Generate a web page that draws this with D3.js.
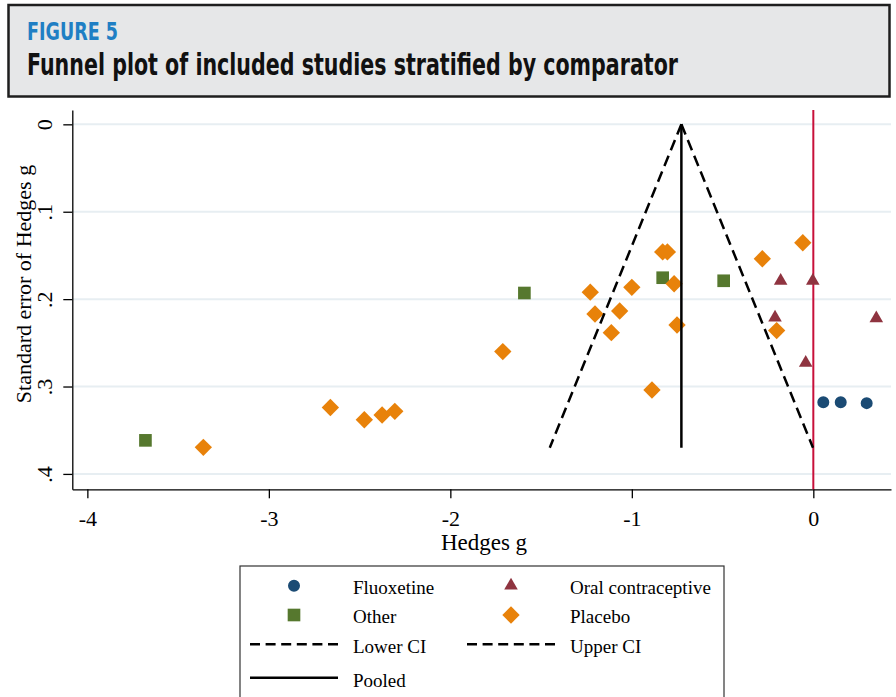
<!DOCTYPE html>
<html>
<head>
<meta charset="utf-8">
<script src="https://cdn.jsdelivr.net/npm/d3@7"></script>
<style>
  html, body { margin: 0; padding: 0; background: #ffffff; }
  svg { display: block; }
</style>
</head>
<body>
<svg id="chart" width="896" height="697"></svg>
<script>
// ---------------- DATA ----------------
const figureLabel = "FIGURE 5";
const figureTitle = "Funnel plot of included studies stratified by comparator";
const xTitle = "Hedges g";
const yTitle = "Standard error of Hedges g";

const xTickValues = [-4, -3, -2, -1, 0];
const xTickLabels = ["-4", "-3", "-2", "-1", "0"];
const yTickValues = [0, 0.1, 0.2, 0.3, 0.4];
const yTickLabels = ["0", ".1", ".2", ".3", ".4"];

// Each study: [Hedges g, standard error]
const fluoxetine = [[0.055, 0.318], [0.151, 0.318], [0.294, 0.319]];
const oralContraceptive = [[-0.180, 0.179], [-0.003, 0.179], [-0.211, 0.221], [0.347, 0.222], [-0.042, 0.273]];
const other = [[-1.592, 0.193], [-0.830, 0.1755], [-0.494, 0.179], [-3.680, 0.3616]];
const placebo = [
  [-0.058, 0.1355], [-0.281, 0.1538], [-0.830, 0.146], [-0.804, 0.146],
  [-0.767, 0.1824], [-1.229, 0.192], [-1.000, 0.1865], [-1.203, 0.217],
  [-1.067, 0.2136], [-1.113, 0.2384], [-0.751, 0.2296], [-0.202, 0.236],
  [-1.711, 0.260], [-0.889, 0.304], [-2.661, 0.324], [-2.474, 0.338],
  [-2.376, 0.3326], [-2.306, 0.3284], [-3.361, 0.3696]
];

const pooledEffect = -0.727;   // pooled Hedges g
const funnelSeMax = 0.37;      // SE at bottom of funnel
const zCrit = 1.96;
const nullEffect = 0;

const legendLabels = ["Fluoxetine", "Oral contraceptive", "Other", "Placebo", "Lower CI", "Upper CI", "Pooled"];

// ---------------- STYLE ----------------
const col = {
  fluoxetine: "#1b4b74",
  oral: "#8f3440",
  other: "#56782e",
  placebo: "#e8820a",
  red: "#c8103a",
  grid: "#e7eef2"
};
const serif = "'Liberation Serif', 'DejaVu Serif', 'Times New Roman', serif";
const narrow = "'Liberation Sans Narrow', 'DejaVu Sans Condensed', 'Liberation Sans', sans-serif";

const svg = d3.select("#chart");

// ---------------- HEADER ----------------
svg.append("rect")
  .attr("x", 8.5).attr("y", 5).attr("width", 881).attr("height", 91.5)
  .attr("fill", "#e6e7e8").attr("stroke", "#1e1e1e").attr("stroke-width", 2.5);

function condensedText(str, xPos, yPos, size, color, targetWidth) {
  const g = svg.append("g");
  const t = g.append("text")
    .attr("x", 0).attr("y", 0)
    .attr("font-family", narrow).attr("font-weight", "bold").attr("font-size", size)
    .attr("fill", color)
    .text(str);
  const w = t.node().getComputedTextLength() || targetWidth;
  g.attr("transform", `translate(${xPos},${yPos}) scale(${targetWidth / w},1)`);
}
condensedText(figureLabel, 27, 40, 24, "#1f7fc4", 91);
condensedText(figureTitle, 27, 74.5, 31, "#111111", 651);

// ---------------- SCALES ----------------
const plotLeft = 72.3, plotRight = 891, plotTop = 110, plotBottom = 489.3;
const x = d3.scaleLinear().domain([-4.083, 0.428]).range([plotLeft, plotRight]);
const y = d3.scaleLinear().domain([-0.0164, 0.4176]).range([plotTop, plotBottom]);

// gridlines
svg.append("g").selectAll("line").data(yTickValues).join("line")
  .attr("x1", plotLeft).attr("x2", plotRight)
  .attr("y1", d => y(d)).attr("y2", d => y(d))
  .attr("stroke", col.grid).attr("stroke-width", 2);

// axes
const xAxis = d3.axisBottom(x).tickValues(xTickValues)
  .tickFormat((d, i) => xTickLabels[i]).tickSize(9).tickPadding(12).tickSizeOuter(0);
const gx = svg.append("g").attr("transform", `translate(0,${plotBottom})`).call(xAxis);
gx.select(".domain").attr("stroke", "#000").attr("stroke-width", 1.3);
gx.selectAll(".tick line").attr("stroke", "#000").attr("stroke-width", 1.3);
gx.selectAll(".tick text").attr("font-family", serif).attr("font-size", 22).attr("fill", "#000");

const yAxis = d3.axisLeft(y).tickValues(yTickValues)
  .tickFormat((d, i) => yTickLabels[i]).tickSize(9).tickSizeOuter(0);
const gy = svg.append("g").attr("transform", `translate(${plotLeft},0)`).call(yAxis);
gy.select(".domain").attr("stroke", "#000").attr("stroke-width", 1.3);
gy.selectAll(".tick line").attr("stroke", "#000").attr("stroke-width", 1.3);
gy.selectAll(".tick text")
  .attr("font-family", serif).attr("font-size", 22).attr("fill", "#000")
  .attr("x", null).attr("dy", null)
  .attr("text-anchor", "middle")
  .attr("transform", `translate(${51.5 - plotLeft},0) rotate(-90)`);

// axis titles
svg.append("text")
  .attr("x", 484).attr("y", 550)
  .attr("text-anchor", "middle")
  .attr("font-family", serif).attr("font-size", 23).attr("fill", "#000")
  .text(xTitle);
svg.append("text")
  .attr("transform", `translate(31,284) rotate(-90)`)
  .attr("text-anchor", "middle")
  .attr("font-family", serif).attr("font-size", 22).attr("fill", "#000")
  .text(yTitle);

// null line
svg.append("line")
  .attr("x1", x(nullEffect)).attr("x2", x(nullEffect))
  .attr("y1", plotTop).attr("y2", plotBottom)
  .attr("stroke", col.red).attr("stroke-width", 2);

// ---------------- MARKERS ----------------
const sym = {
  circle: d3.symbol().type(d3.symbolCircle).size(113),
  triangle: d3.symbol().type(d3.symbolTriangle).size(80),
  square: d3.symbol().type(d3.symbolSquare).size(160),
  diamond: d3.symbol().type(d3.symbolSquare).size(150)
};
function drawSeries(data, shape, color, rot) {
  svg.append("g").selectAll("path").data(data).join("path")
    .attr("d", sym[shape]())
    .attr("transform", d => `translate(${x(d[0])},${y(d[1])})` + (rot ? " rotate(45)" : ""))
    .attr("fill", color);
}
drawSeries(fluoxetine, "circle", col.fluoxetine, false);
drawSeries(oralContraceptive, "triangle", col.oral, false);
drawSeries(other, "square", col.other, false);
drawSeries(placebo, "diamond", col.placebo, true);

// ---------------- FUNNEL ----------------
const lower = [[pooledEffect, 0], [pooledEffect - zCrit * funnelSeMax, funnelSeMax]];
const upper = [[pooledEffect, 0], [pooledEffect + zCrit * funnelSeMax, funnelSeMax]];
const pooled = [[pooledEffect, 0], [pooledEffect, funnelSeMax]];
const line = d3.line().x(d => x(d[0])).y(d => y(d[1]));
svg.append("path").attr("d", line(lower)).attr("fill", "none")
  .attr("stroke", "#000").attr("stroke-width", 2.5).attr("stroke-dasharray", "11,6");
svg.append("path").attr("d", line(upper)).attr("fill", "none")
  .attr("stroke", "#000").attr("stroke-width", 2.5).attr("stroke-dasharray", "11,6");
svg.append("path").attr("d", line(pooled)).attr("fill", "none")
  .attr("stroke", "#000").attr("stroke-width", 2.5);

// ---------------- LEGEND ----------------
const lg = svg.append("g");
lg.append("rect").attr("x", 240).attr("y", 566).attr("width", 484).attr("height", 160)
  .attr("fill", "#fff").attr("stroke", "#333").attr("stroke-width", 1.2);

const legendItems = [
  { label: legendLabels[0], kind: "circle", color: col.fluoxetine, mx: 294, tx: 353, my: 585.7, ty: 594 },
  { label: legendLabels[1], kind: "triangle", color: col.oral, mx: 511, tx: 570, my: 585.7, ty: 594 },
  { label: legendLabels[2], kind: "square", color: col.other, mx: 294, tx: 353, my: 615, ty: 623 },
  { label: legendLabels[3], kind: "diamond", color: col.placebo, mx: 511, tx: 570, my: 615, ty: 623 },
  { label: legendLabels[4], kind: "dash", mx: 250, tx: 353, my: 644.3, ty: 653 },
  { label: legendLabels[5], kind: "dash", mx: 467, tx: 570, my: 644.3, ty: 653 },
  { label: legendLabels[6], kind: "solid", mx: 250, tx: 353, my: 677.7, ty: 687 }
];
legendItems.forEach(it => {
  if (it.kind === "dash" || it.kind === "solid") {
    lg.append("line").attr("x1", it.mx).attr("x2", it.mx + 88)
      .attr("y1", it.my).attr("y2", it.my)
      .attr("stroke", "#000").attr("stroke-width", 2.5)
      .attr("stroke-dasharray", it.kind === "dash" ? "10,5.6" : null);
  } else {
    lg.append("path").attr("d", sym[it.kind]())
      .attr("transform", `translate(${it.mx},${it.my})` + (it.kind === "diamond" ? " rotate(45)" : ""))
      .attr("fill", it.color);
  }
  lg.append("text").attr("x", it.tx).attr("y", it.ty)
    .attr("font-family", serif).attr("font-size", 19).attr("fill", "#000")
    .text(it.label);
});
</script>
</body>
</html>
